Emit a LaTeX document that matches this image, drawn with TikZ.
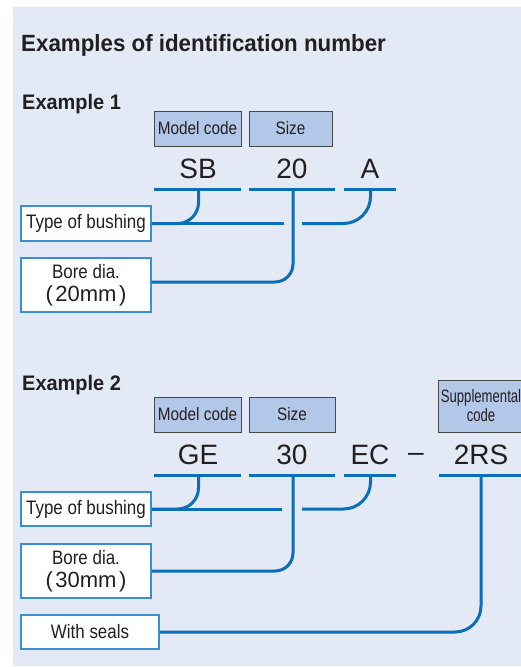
\documentclass[tikz,border=0pt]{standalone}
\usepackage{fontspec}
\setmainfont{Liberation Sans}
\newfontfamily\titlef[FakeStretch=0.95]{Liberation Sans}
\newfontfamily\labf[FakeStretch=0.87]{Liberation Sans}
\newfontfamily\hdrf[FakeStretch=0.85]{Liberation Sans}
\newfontfamily\supf[FakeStretch=0.73]{Liberation Sans}
\definecolor{panel}{HTML}{E3E9F5}
\definecolor{hdrfill}{HTML}{B3C8E8}
\definecolor{hdrline}{HTML}{4A4A4A}
\definecolor{lineblue}{HTML}{0A6EB9}
\definecolor{boxline}{HTML}{3A8FD3}
\definecolor{txt}{HTML}{231F20}
\begin{document}
\begin{tikzpicture}[x=1pt,y=-1pt,
  every node/.style={text=txt},
  hdr/.style={draw=hdrline, line width=1pt, fill=hdrfill, inner sep=0pt, minimum height=35pt, font=\hdrf\fontsize{18}{20}\selectfont},
  lab/.style={draw=boxline, line width=1.2pt, fill=white, inner sep=0pt, minimum width=130pt, font=\labf\fontsize{19.5}{23}\selectfont},
  code/.style={font=\fontsize{28}{30}\selectfont, anchor=base, inner sep=0pt},
  uline/.style={draw=lineblue, line width=3pt},
  conn/.style={draw=lineblue, line width=3pt},
  head/.style={anchor=base west, inner sep=0pt}
]
\useasboundingbox (0,0) rectangle (521,667);
\clip (0,0) rectangle (521,667);
\fill[panel] (13,7) rectangle (530,666);

% titles
\node[head, font=\titlef\bfseries\fontsize{23.5}{25}\selectfont] (title) at (21,51) {Examples of identification number};
\node[head, font=\titlef\bfseries\fontsize{21}{23}\selectfont] (ex1) at (22,109) {Example 1};
\node[head, font=\titlef\bfseries\fontsize{21}{23}\selectfont] (ex2) at (22,390) {Example 2};

% ---------- Example 1 ----------
\node[hdr, minimum width=87pt] (mc1) at (197.5,128.5) {Model code};
\node[hdr, minimum width=83pt] (sz1) at (290.5,128.5) {Size};
\node[code] (sb) at (198,178) {SB};
\node[code] (n20) at (292,178) {20};
\node[code] (a1) at (370,178) {A};
\draw[uline] (154,189) -- (241,189);
\draw[uline] (249,189) -- (335,189);
\draw[uline] (344,189) -- (396,189);
\coordinate (sbU) at (198.5,189);
\coordinate (n20U) at (293,189);
\coordinate (a1U) at (370.5,189);

\node[lab, minimum height=35pt] (tob1) at (86,223.5) {Type of bushing};
\node[lab, minimum height=54pt, align=center] (bore1) at (86,285) {Bore dia.\\{\rmfamily\fontsize{22}{23}\selectfont (\kern2.5pt20mm\kern2.5pt)}};

\coordinate (g1a) at (284,223.5);
\coordinate (g1b) at (302,223.5);
\draw[conn] (tob1.east) -- (g1a);
\draw[conn, rounded corners=21pt] (sbU) |- (tob1.east);
\draw[conn, rounded corners=27pt] (a1U) |- (g1b);
\draw[conn, rounded corners=18pt] (n20U) |- ([yshift=3pt]bore1.east);

% ---------- Example 2 ----------
\node[hdr, minimum width=87pt] (mc2) at (197.5,414.5) {Model code};
\node[hdr, minimum width=86pt] (sz2) at (292,414.5) {Size};
\node[hdr, minimum width=86pt, minimum height=52pt, align=center, font=\supf\fontsize{18}{19}\selectfont] (sup) at (481,406) {Supplemental\\code};
\node[code] (ge) at (198,464) {GE};
\node[code] (n30) at (292,464) {30};
\node[code] (ec) at (370,464) {EC};
\node[code] (dash) at (416,461) {–};
\node[code] (rs) at (481,464) {2RS};
\draw[uline] (154,475) -- (241,475);
\draw[uline] (249,475) -- (335,475);
\draw[uline] (344,475) -- (396,475);
\draw[uline] (439,475) -- (525,475);
\coordinate (geU) at (198.5,475);
\coordinate (n30U) at (293,475);
\coordinate (ecU) at (370.5,475);
\coordinate (rsU) at (481,475);

\node[lab, minimum height=34pt] (tob2) at (86,509) {Type of bushing};
\node[lab, minimum height=54pt, align=center] (bore2) at (86,571) {Bore dia.\\{\rmfamily\fontsize{22}{23}\selectfont (\kern2.5pt30mm\kern2.5pt)}};
\node[lab, minimum width=138pt, minimum height=34pt] (seal) at (90,632) {With seals};

\coordinate (g2a) at (282,509);
\coordinate (g2b) at (302,509);
\draw[conn] (tob2.east) -- (g2a);
\draw[conn, rounded corners=21pt] (geU) |- (tob2.east);
\draw[conn, rounded corners=27pt] (ecU) |- (g2b);
\draw[conn, rounded corners=18pt] (n30U) |- (bore2.east);
\draw[conn, rounded corners=26pt] (rsU) |- (seal.east);
\end{tikzpicture}
\end{document}
